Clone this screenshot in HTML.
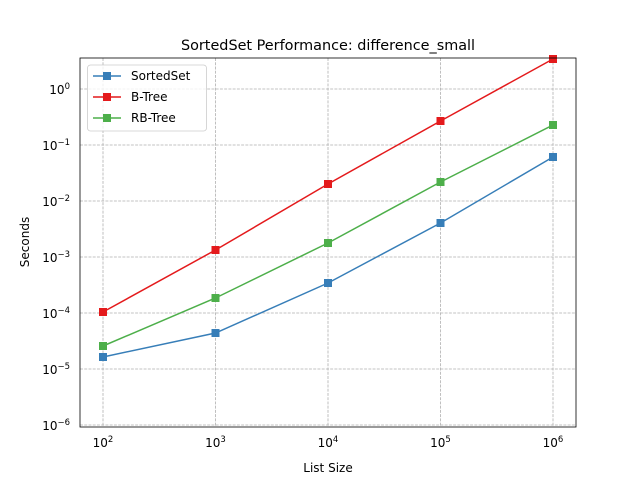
<!DOCTYPE html>
<html><head><meta charset="utf-8"><style>body{margin:0;background:#fff}svg{display:block}</style></head>
<body>
<svg width="640" height="480" viewBox="0 0 640 480" xmlns="http://www.w3.org/2000/svg" font-family="'DejaVu Sans','Liberation Sans',sans-serif">
<rect width="640" height="480" fill="#fff"/>
<g stroke="#b0b0b0" stroke-width="0.8" stroke-dasharray="2.96,1.28">
<line x1="103" y1="58" x2="103" y2="427"/><line x1="215.5" y1="58" x2="215.5" y2="427"/><line x1="328" y1="58" x2="328" y2="427"/><line x1="440.5" y1="58" x2="440.5" y2="427"/><line x1="553" y1="58" x2="553" y2="427"/>
<line x1="80" y1="89" x2="576" y2="89"/><line x1="80" y1="145" x2="576" y2="145"/><line x1="80" y1="201" x2="576" y2="201"/><line x1="80" y1="257" x2="576" y2="257"/><line x1="80" y1="313" x2="576" y2="313"/><line x1="80" y1="369" x2="576" y2="369"/><line x1="80" y1="425" x2="576" y2="425"/>
</g>
<g stroke="#000" stroke-width="0.8" id="ticks"></g>
<polyline fill="none" stroke="#377eb8" stroke-width="1.5" points="103,357 215.5,333 328,283 440.5,223 553,157"/>
<polyline fill="none" stroke="#e41a1c" stroke-width="1.5" points="103,312 215.5,250 328,184 440.5,121 553,59"/>
<polyline fill="none" stroke="#4daf4a" stroke-width="1.5" points="103,346 215.5,298 328,243 440.5,182 553,125"/>
<g fill="#377eb8"><rect x="99" y="353" width="8" height="8"/><rect x="211.5" y="329" width="8" height="8"/><rect x="324" y="279" width="8" height="8"/><rect x="436.5" y="219" width="8" height="8"/><rect x="549" y="153" width="8" height="8"/></g>
<g fill="#e41a1c"><rect x="99" y="308" width="8" height="8"/><rect x="211.5" y="246" width="8" height="8"/><rect x="324" y="180" width="8" height="8"/><rect x="436.5" y="117" width="8" height="8"/><rect x="549" y="55" width="8" height="8"/></g>
<g fill="#4daf4a"><rect x="99" y="342" width="8" height="8"/><rect x="211.5" y="294" width="8" height="8"/><rect x="324" y="239" width="8" height="8"/><rect x="436.5" y="178" width="8" height="8"/><rect x="549" y="121" width="8" height="8"/></g>
<rect x="80" y="58" width="496" height="369" fill="none" stroke="#000" stroke-width="0.8"/>
<g font-size="12" fill="#000" text-anchor="middle">
<text x="103" y="447">10<tspan dy="-5" font-size="8.5">2</tspan></text>
<text x="215.5" y="447">10<tspan dy="-5" font-size="8.5">3</tspan></text>
<text x="328" y="447">10<tspan dy="-5" font-size="8.5">4</tspan></text>
<text x="440.5" y="447">10<tspan dy="-5" font-size="8.5">5</tspan></text>
<text x="553" y="447">10<tspan dy="-5" font-size="8.5">6</tspan></text>
</g>
<g font-size="12" fill="#000" text-anchor="end">
<text x="70" y="94">10<tspan dy="-5" font-size="8.5">0</tspan></text>
<text x="70" y="150">10<tspan dy="-5" font-size="8.5">−1</tspan></text>
<text x="70" y="206">10<tspan dy="-5" font-size="8.5">−2</tspan></text>
<text x="70" y="262">10<tspan dy="-5" font-size="8.5">−3</tspan></text>
<text x="70" y="318">10<tspan dy="-5" font-size="8.5">−4</tspan></text>
<text x="70" y="374">10<tspan dy="-5" font-size="8.5">−5</tspan></text>
<text x="70" y="430">10<tspan dy="-5" font-size="8.5">−6</tspan></text>
</g>
<text x="328" y="472" font-size="12" text-anchor="middle">List Size</text>
<text transform="translate(29,242) rotate(-90)" font-size="12" text-anchor="middle">Seconds</text>
<text x="328" y="50" font-size="14.4" text-anchor="middle">SortedSet Performance: difference_small</text>
<rect x="87.5" y="65" width="119" height="66" rx="3" fill="#fff" fill-opacity="0.8" stroke="#ccc" stroke-width="0.8"/>
<line x1="93" y1="76" x2="121" y2="76" stroke="#377eb8" stroke-width="1.5"/><rect x="103" y="72" width="8" height="8" fill="#377eb8"/>
<line x1="93" y1="97" x2="121" y2="97" stroke="#e41a1c" stroke-width="1.5"/><rect x="103" y="93" width="8" height="8" fill="#e41a1c"/>
<line x1="93" y1="118" x2="121" y2="118" stroke="#4daf4a" stroke-width="1.5"/><rect x="103" y="114" width="8" height="8" fill="#4daf4a"/>
<g font-size="12"><text x="131" y="80">SortedSet</text><text x="131" y="101">B-Tree</text><text x="131" y="122">RB-Tree</text></g>
<script>
var g=document.getElementById('ticks'),s='';
function L(a,b,c,d){s+='<line x1="'+a+'" y1="'+b+'" x2="'+c+'" y2="'+d+'"/>';}
for(var k=0;k<5;k++){var x=103+112.5*k;L(x,427,x,430.5);}
for(var k=0;k<7;k++){var y=89+56*k;L(80,y,76.5,y);}
for(var k=-1;k<5;k++)for(var n=2;n<10;n++){var x=103+112.5*(k+Math.log10(n));if(x>80&&x<576)L(x,427,x,429);}
for(var k=-1;k<7;k++)for(var n=2;n<10;n++){var y=89+56*k-56*Math.log10(n);if(y>58&&y<427)L(80,y,78,y);}
g.innerHTML=s;
</script>
</svg>
</body></html>
